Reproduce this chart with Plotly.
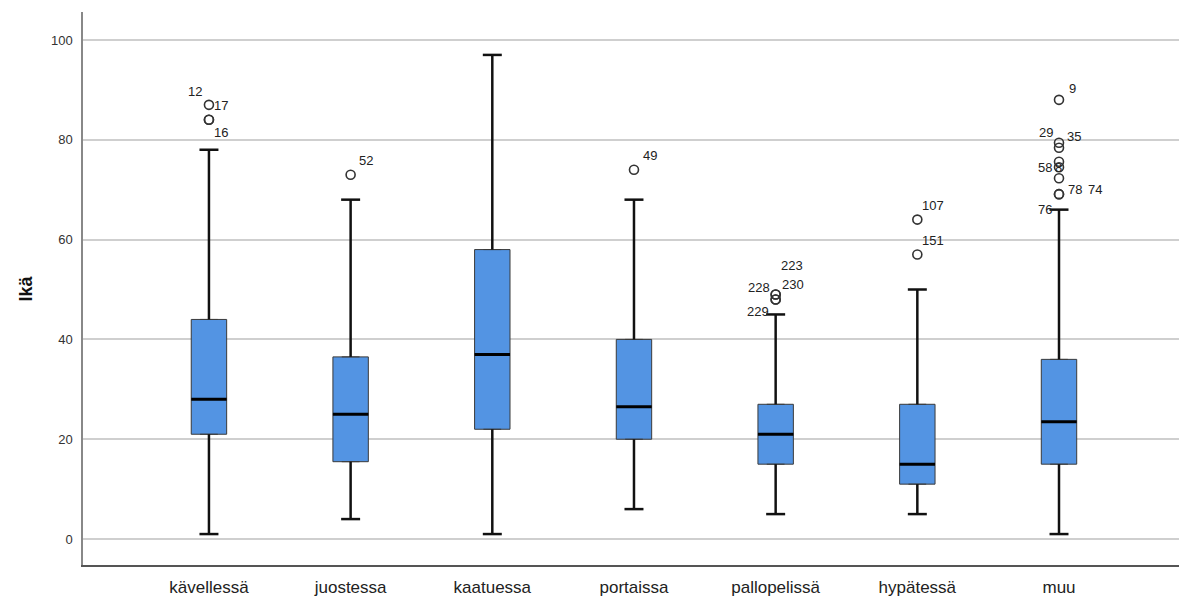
import plotly.graph_objects as go

categories = ["kävellessä", "juostessa", "kaatuessa", "portaissa", "pallopelissä", "hypätessä", "muu"]
lower_whisker = [1, 4, 1, 6, 5, 5, 1]
q1 = [21, 15.5, 22, 20, 15, 11, 15]
median = [28, 25, 37, 26.5, 21, 15, 23.5]
q3 = [44, 36.5, 58, 40, 27, 27, 36]
upper_whisker = [78, 68, 97, 68, 45, 50, 66]

# outliers: (category index, value)
outlier_cat = [0, 0, 0, 1, 3, 4, 4, 4, 4, 5, 5, 6, 6, 6, 6, 6, 6, 6, 6]
outlier_val = [87, 84, 84, 73, 74, 49, 49, 48, 48, 64, 57, 88, 79.4, 78.4, 75.6, 74.5, 72.3, 69.1, 69.1]

# outlier case labels: (category index, label, value level of label, pixel shift)
label_cat = [0, 0, 0, 1, 3, 4, 4, 4, 4, 5, 5, 6, 6, 6, 6, 6, 6, 6, 6]
label_txt = ["12", "17", "16", "52", "49", "223", "228", "230", "229", "107", "151",
             "9", "29", "35", "58", "8", "78", "74", "76"]
label_val = [89.6, 86.8, 81.4, 75.8, 76.8, 54.9, 50.5, 51.1, 45.5, 66.9, 59.9,
             90.2, 81.4, 80.6, 74.5, 74.5, 70.0, 70.0, 66.1]
label_shift = [-14, 12, 12, 15, 16, 16, -17, 17, -18, 16, 16,
               13, -13, 15, -14, -1, 16, 36, -14]

y_ticks = [0, 20, 40, 60, 80, 100]

BOX_W = 0.25
CAP_W = 0.134
FILL = "#5394e3"

fig = go.Figure()

xs = list(range(len(categories)))
for i in xs:
    fig.add_trace(go.Box(
        x=[i], q1=[q1[i]], median=[median[i]], q3=[q3[i]],
        lowerfence=[q1[i]], upperfence=[q3[i]],
        width=BOX_W, fillcolor=FILL,
        line=dict(color="#3a3a3a", width=1),
        boxpoints=False, showlegend=False, hoverinfo="skip",
    ))

# whiskers and caps
wx, wy = [], []
for i in xs:
    wx += [i, i, None, i, i, None]
    wy += [q3[i], upper_whisker[i], None, q1[i], lower_whisker[i], None]
    wx += [i - CAP_W / 2, i + CAP_W / 2, None, i - CAP_W / 2, i + CAP_W / 2, None]
    wy += [upper_whisker[i], upper_whisker[i], None, lower_whisker[i], lower_whisker[i], None]
fig.add_trace(go.Scatter(x=wx, y=wy, mode="lines", line=dict(color="#111111", width=2.5),
                         showlegend=False, hoverinfo="skip"))

# medians
mx, my = [], []
for i in xs:
    mx += [i - BOX_W / 2, i + BOX_W / 2, None]
    my += [median[i], median[i], None]
fig.add_trace(go.Scatter(x=mx, y=my, mode="lines", line=dict(color="#000000", width=3),
                         showlegend=False, hoverinfo="skip"))

# outliers
fig.add_trace(go.Scatter(
    x=outlier_cat, y=outlier_val, mode="markers",
    marker=dict(symbol="circle-open", size=9, color="#333333", line=dict(width=1.6)),
    showlegend=False, hoverinfo="skip"))

for c, t, v, s in zip(label_cat, label_txt, label_val, label_shift):
    fig.add_annotation(x=c, y=v, xref="x", yref="y", text=t, showarrow=False,
                       xshift=s, font=dict(family="Liberation Sans, Arial", size=13, color="#222222"))

fig.add_annotation(x=(25 - 83) / 1096, y=0.5, xref="paper", yref="paper", text="<b>Ikä</b>",
                   textangle=-90, showarrow=False, xanchor="center", yanchor="middle",
                   font=dict(family="Liberation Sans, Arial", size=18, color="#111111"))

fig.update_layout(
    width=1179, height=599,
    margin=dict(l=83, r=0, t=12, b=34),
    plot_bgcolor="white", paper_bgcolor="white",
    font=dict(family="Liberation Sans, Arial"),
    xaxis=dict(
        range=[-0.889, 6.847], tickmode="array", tickvals=xs, ticktext=categories,
        showgrid=False, zeroline=False, showline=True, linecolor="#555555", linewidth=2,
        ticks="", tickfont=dict(size=17, color="#222222"), ticklabelstandoff=6,
    ),
    yaxis=dict(
        range=[-5.2, 105.6], tickmode="array", tickvals=y_ticks,
        showgrid=True, gridcolor="#cfcfcf", gridwidth=1.5, zeroline=False,
        showline=True, linecolor="#888888", linewidth=1.5,
        ticks="", tickfont=dict(size=13, color="#333333"), ticklabelstandoff=6,
    ),
)

fig.write_html("out.html", config={"displayModeBar": False},
               post_script="document.body.style.margin='0';document.body.style.overflow='hidden';")
